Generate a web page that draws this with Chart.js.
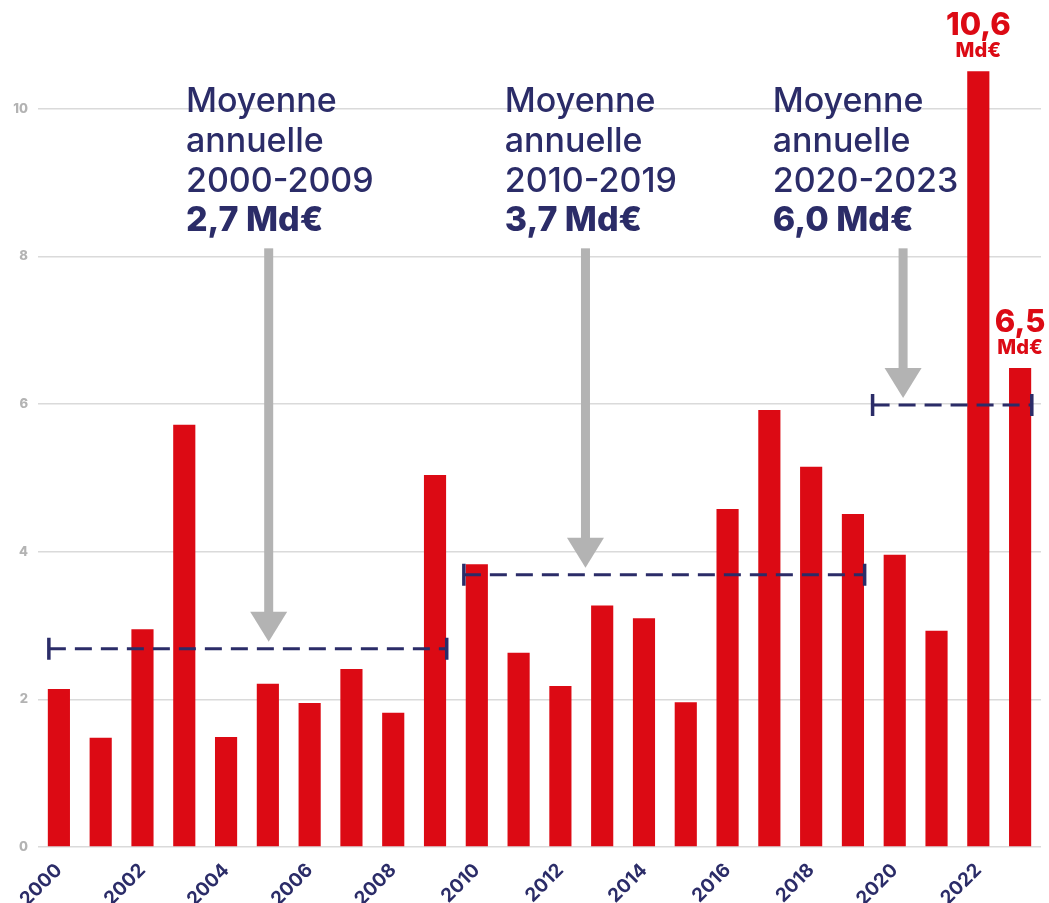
<!DOCTYPE html>
<html lang="fr">
<head>
<meta charset="utf-8">
<script src="https://cdn.jsdelivr.net/npm/chart.js@4.4.1/dist/chart.umd.min.js"></script>
<style>
  html, body { margin: 0; padding: 0; background: #fff; }
  #wrap { width: 1049px; height: 903px; position: relative; }
</style>
</head>
<body>
<div id="wrap"><canvas id="dommagesChart"></canvas></div>
<script>
// Données (Md€)
const annees = ['2000', '2001', '2002', '2003', '2004', '2005', '2006', '2007', '2008', '2009',
    '2010', '2011', '2012', '2013', '2014', '2015', '2016', '2017', '2018', '2019',
    '2020', '2021', '2022', '2023'];
const montants = [2.14, 1.48, 2.95, 5.72, 1.49, 2.21, 1.95, 2.41, 1.82, 5.04,
    3.83, 2.63, 2.18, 3.27, 3.10, 1.96, 4.58, 5.92, 5.15, 4.51,
    3.96, 2.93, 10.51, 6.49];
const yTicks = [0, 2, 4, 6, 8, 10];
const xTickLabels = ['2000', '2002', '2004', '2006', '2008', '2010', '2012', '2014', '2016', '2018', '2020', '2022'];

const periodes = ['2000-2009', '2010-2019', '2020-2023'];
const moyennes = [2.7, 3.7, 6.0];
const moyennesTexte = ['2,7 Md€', '3,7 Md€', '6,0 Md€'];

const anneesEtiquetees = ['2022', '2023'];
const etiquettesValeurs = ['10,6', '6,5'];

const ROUGE = '#dc0a14';
const MARINE = '#2b2c68';
const GRIS = '#b3b3b3';
const FONT = "Inter, 'DejaVu Sans', sans-serif";

// placement des annotations (en index de catégorie)
const bornes = [[-0.24, 9.28], [9.69, 19.28], [19.47, 23.28]];
const flechesX = [5.02, 12.6, 20.2];
const textesX = [3.04, 10.67, 17.08];

const moyennesPlugin = {
    id: 'moyennes',
    afterDatasetsDraw(chart) {
        const { ctx, scales: { x, y } } = chart;
        ctx.save();

        periodes.forEach((periode, i) => {
            // Flèche grise
            const ax = x.getPixelForValue(flechesX[i]);
            const top = y.getPixelForValue(8.11);
            const tip = y.getPixelForValue(moyennes[i]) - 6;
            ctx.fillStyle = GRIS;
            ctx.fillRect(ax - 4.5, top, 9, tip - top - 28);
            ctx.beginPath();
            ctx.moveTo(ax - 18.5, tip - 30);
            ctx.lineTo(ax + 18.5, tip - 30);
            ctx.lineTo(ax, tip);
            ctx.closePath();
            ctx.fill();

            // Ligne pointillée de la moyenne
            const x0 = x.getPixelForValue(bornes[i][0]);
            const x1 = x.getPixelForValue(bornes[i][1]);
            const my = y.getPixelForValue(moyennes[i]) + 1;
            ctx.strokeStyle = MARINE;
            ctx.lineWidth = 3;
            ctx.setLineDash([17, 9]);
            ctx.beginPath();
            ctx.moveTo(x0, my);
            ctx.lineTo(x1, my);
            ctx.stroke();
            ctx.setLineDash([]);
            ctx.lineWidth = 3.5;
            ctx.beginPath();
            ctx.moveTo(x0, my - 11);
            ctx.lineTo(x0, my + 11);
            ctx.moveTo(x1, my - 11);
            ctx.lineTo(x1, my + 11);
            ctx.stroke();

            // Texte
            const tx = x.getPixelForValue(textesX[i]);
            const ty = y.getPixelForValue(9.96);
            ctx.fillStyle = MARINE;
            ctx.textAlign = 'left';
            ctx.textBaseline = 'alphabetic';
            ctx.font = '500 34px ' + FONT;
            ctx.fillText('Moyenne', tx, ty);
            ctx.fillText('annuelle', tx, ty + 40);
            ctx.fillText(periode, tx, ty + 80);
            ctx.font = '800 34px ' + FONT;
            ctx.fillText(moyennesTexte[i], tx, ty + 119);
        });

        // Étiquettes des barres 2022 et 2023
        ctx.fillStyle = ROUGE;
        ctx.textAlign = 'center';
        anneesEtiquetees.forEach((an, i) => {
            const idx = annees.indexOf(an);
            const bx = x.getPixelForValue(idx);
            const by = y.getPixelForValue(montants[idx]);
            ctx.font = '800 31px ' + FONT;
            ctx.fillText(etiquettesValeurs[i], bx, by - 36);
            ctx.font = '800 20px ' + FONT;
            ctx.fillText('Md€', bx, by - 14);
        });

        ctx.restore();
    }
};

new Chart(document.getElementById('dommagesChart'), {
    type: 'bar',
    data: {
        labels: annees,
        datasets: [{
            data: montants,
            backgroundColor: ROUGE,
            barPercentage: 0.53,
            categoryPercentage: 1
        }]
    },
    options: {
        responsive: true,
        maintainAspectRatio: false,
        animation: false,
        layout: { padding: { top: 35, right: 8, left: 0, bottom: 0 } },
        plugins: {
            legend: { display: false },
            tooltip: { enabled: false }
        },
        scales: {
            y: {
                min: 0,
                max: 11,
                afterBuildTicks: (axis) => {
                    axis.ticks = yTicks.map(v => ({ value: v }));
                },
                afterFit: (scale) => { scale.width = 38; },
                ticks: {
                    color: GRIS,
                    padding: 10,
                    font: { family: FONT, size: 13, weight: 800 }
                },
                grid: { color: '#dadada', lineWidth: 1.5, drawTicks: false },
                border: { display: false }
            },
            x: {
                afterFit: (scale) => { scale.height = 56; },
                ticks: {
                    autoSkip: false,
                    maxRotation: 45,
                    minRotation: 45,
                    padding: 4,
                    color: MARINE,
                    font: { family: FONT, size: 19, weight: 'bold' },
                    callback: (v, i) => xTickLabels.includes(annees[i]) ? annees[i] : ''
                },
                grid: { display: false },
                border: { display: false }
            }
        }
    },
    plugins: [moyennesPlugin]
});
</script>
</body>
</html>
